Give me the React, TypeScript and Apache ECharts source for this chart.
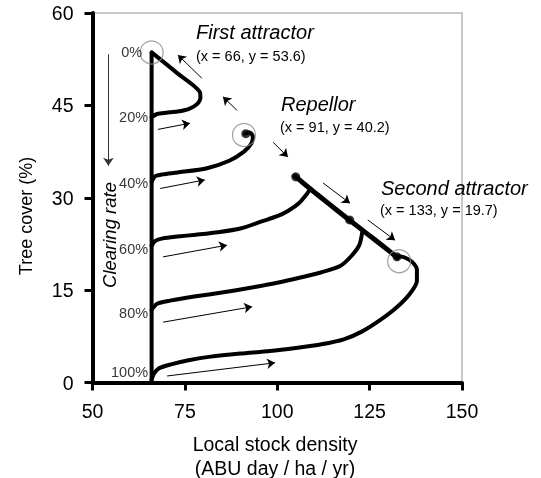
import React, { useEffect, useRef } from 'react';
import * as echarts from 'echarts';

// ---- axes ----
const xMin = 50;
const xMax = 150;
const xStep = 25;
const yMin = 0;
const yMax = 60;
const yStep = 15;

// ---- initial state line (all trajectories start at x = 66) ----
const initialX = [66, 66];
const initialY = [0, 53.6];

// ---- clearing rate labels ----
const clearingRates = ['0%', '20%', '40%', '60%', '80%', '100%'];
const clearingLabelY = [53.6, 43.1, 32.4, 21.7, 11.3, 1.7];

// ---- trajectories [x, y] ----
const traj20 = [
  [66, 43.1], [67.5, 43.6], [70, 43.8], [73, 44.0], [76, 44.4], [78.3, 45.2],
  [79.2, 46.2], [79.1, 47.1], [73, 50.2], [66, 53.6],
];
const traj40 = [
  [66, 32.6], [67, 33.5], [69, 33.8], [73, 34.1], [81, 34.8], [87, 36.0],
  [91, 37.5], [93, 38.8], [93.4, 39.9], [92.6, 40.6], [91.3, 40.4],
];
const traj60 = [
  [66, 22.2], [67, 23.0], [69, 23.4], [73, 23.7], [78, 24.0], [84, 24.4],
  [90, 25.0], [96, 26.2], [100, 27.0], [103, 27.9], [106, 29.2], [108, 30.6], [109, 31.5],
];
const traj80 = [
  [66, 11.8], [67.5, 12.8], [71, 13.3], [78, 14.0], [85, 14.6], [92, 15.3],
  [100, 16.2], [106, 17.0], [112, 17.9], [117, 18.9], [120, 20.5], [122.2, 22.3], [123, 24.4],
];
const traj100 = [
  [66, 0.5], [66.6, 1.4], [68, 2.3], [71, 2.9], [76, 3.6], [82, 4.2], [90, 4.7],
  [98, 5.1], [105, 5.6], [112, 6.2], [118, 7.0], [123, 8.3], [128, 10.2],
  [132.5, 12.3], [136, 14.5], [137.8, 16.5], [137.8, 18.3], [136.5, 19.6],
  [134.5, 20.3], [133, 20.5],
];
const separatrix = [
  [104.8, 33.5], [109, 31.4], [114, 29.0], [119.5, 26.4], [124, 24.3], [128.5, 22.2], [132.5, 20.3],
];
const blobs = [
  [91.5, 40.4], [105, 33.4], [119.6, 26.4], [132.4, 20.4],
];

// ---- attractors ----
const attractorNames = ['First attractor', 'Repellor', 'Second attractor'];
const attractorX = [66, 91, 133];
const attractorY = [53.6, 40.2, 19.7];

// ---- arrows [x1, y1, x2, y2] ----
const flowArrows = [
  [67.7, 41.1, 76.4, 42.1],
  [68.3, 31.5, 80.4, 32.9],
  [69.1, 20.4, 86.4, 22.3],
  [69.1, 9.8, 93.2, 12.3],
  [70.2, 1.06, 99.4, 3.2],
  [79.6, 49.4, 73.1, 53.2],
  [89.1, 44.2, 85.3, 46.4],
  [98.9, 39.0, 102.9, 36.6],
  [112.4, 32.4, 119.7, 29.1],
  [124.5, 26.4, 131.9, 23.1],
];
const clearingArrow = [54.3, 53.3, 54.3, 35.2];

const FONT = '"Liberation Sans", Arial, Helvetica, sans-serif';

export default function App() {
  const ref = useRef<HTMLDivElement>(null);

  useEffect(() => {
    if (!ref.current) return;
    const chart = echarts.init(ref.current, undefined, { renderer: 'svg' });

    const trajStyle = (data: number[][], name: string, width = 4) => ({
      type: 'line',
      name,
      data,
      showSymbol: false,
      smooth: 0.25,
      lineStyle: { color: '#000', width, cap: 'round', join: 'round' },
      z: 3,
    });

    const annotationText: any[] = [];
    const textPos = [
      [196, 32, 196, 56],
      [281, 104, 280, 127],
      [381, 188, 380, 210],
    ];
    attractorNames.forEach((n, i) => {
      const p = textPos[i];
      annotationText.push({
        type: 'text', x: p[0], y: p[1],
        style: { text: n, fontSize: 20, fontStyle: 'italic', fontFamily: FONT, fill: '#000', align: 'left', verticalAlign: 'middle' },
      });
      annotationText.push({
        type: 'text', x: p[2], y: p[3],
        style: { text: `(x = ${attractorX[i]}, y = ${attractorY[i]})`, fontSize: 14.5, fontFamily: FONT, fill: '#000', align: 'left', verticalAlign: 'middle' },
      });
    });

    const option: any = {
      animation: false,
      grid: {
        left: 92.5, right: 79, top: 13, bottom: 95.5,
        show: true, borderColor: '#c8c8c8', borderWidth: 2,
        outerBoundsMode: 'none',
      },
      xAxis: {
        type: 'value', min: xMin, max: xMax, interval: xStep,
        axisLine: { show: true, onZero: false, lineStyle: { color: '#000', width: 4 } },
        axisTick: { show: true, length: 8, lineStyle: { color: '#000', width: 3 } },
        axisLabel: { fontSize: 19.5, color: '#000', margin: 18, fontFamily: FONT },
        splitLine: { show: false },
      },
      yAxis: {
        type: 'value', min: yMin, max: yMax, interval: yStep,
        axisLine: { show: true, onZero: false, lineStyle: { color: '#000', width: 4 } },
        axisTick: { show: true, length: 8, lineStyle: { color: '#000', width: 3 } },
        axisLabel: { fontSize: 19.5, color: '#000', margin: 19, fontFamily: FONT },
        splitLine: { show: false },
      },
      series: [
        trajStyle(initialX.map((x, i) => [x, initialY[i]]), 'initial'),
        trajStyle(traj20, '20%'),
        trajStyle(traj40, '40%'),
        trajStyle(traj60, '60%'),
        trajStyle(traj80, '80%'),
        trajStyle(traj100, '100%'),
        trajStyle(separatrix, 'diagonal', 5),
        {
          type: 'scatter', name: 'blobs', data: blobs, symbolSize: 9,
          itemStyle: { color: '#000' }, z: 4,
        },
        {
          type: 'scatter', name: 'attractors',
          data: attractorX.map((x, i) => [x, attractorY[i]]),
          symbolSize: 23,
          itemStyle: { color: 'rgba(0,0,0,0)', borderColor: '#8a8a8a', borderWidth: 1.2 },
          z: 5,
        },
        {
          type: 'lines', name: 'flow', coordinateSystem: 'cartesian2d',
          data: flowArrows.map((a) => ({ coords: [[a[0], a[1]], [a[2], a[3]]] })),
          symbol: ['none', 'arrow'], symbolSize: 8,
          lineStyle: { color: '#000', width: 1, opacity: 1, curveness: 0 },
          z: 4,
        },
        {
          type: 'lines', name: 'clearing', coordinateSystem: 'cartesian2d',
          data: [{ coords: [[clearingArrow[0], clearingArrow[1]], [clearingArrow[2], clearingArrow[3]]] }],
          symbol: ['none', 'arrow'], symbolSize: 8,
          lineStyle: { color: '#333', width: 1, opacity: 1 },
          z: 4,
        },
        {
          type: 'scatter', name: 'clearingLabels',
          data: clearingLabelY.map((y, i) => ({
            value: [initialX[0], y],
            label: {
              show: true, position: 'left', distance: i === 0 ? 9 : 3,
              formatter: clearingRates[i], fontSize: 14.5, color: '#000', fontFamily: FONT,
            },
          })),
          symbolSize: 1,
          itemStyle: { color: 'rgba(0,0,0,0)' },
          z: 6,
        },
      ],
      graphic: [
        {
          type: 'text', x: 26, y: 216, rotation: Math.PI / 2,
          style: { text: 'Tree cover (%)', fontSize: 18, fontFamily: FONT, fill: '#000', align: 'center', verticalAlign: 'middle' },
        },
        {
          type: 'text', x: 275, y: 444,
          style: { text: 'Local stock density', fontSize: 19.5, fontFamily: FONT, fill: '#000', align: 'center', verticalAlign: 'middle' },
        },
        {
          type: 'text', x: 275, y: 468,
          style: { text: '(ABU day / ha / yr)', fontSize: 19.5, fontFamily: FONT, fill: '#000', align: 'center', verticalAlign: 'middle' },
        },
        {
          type: 'text', x: 109, y: 235, rotation: Math.PI / 2,
          style: { text: 'Clearing rate', fontSize: 18.5, fontStyle: 'italic', fontFamily: FONT, fill: '#000', align: 'center', verticalAlign: 'middle' },
        },
        ...annotationText,
      ],
    };

    chart.setOption(option);
    return () => chart.dispose();
  }, []);

  return <div ref={ref} style={{ position: 'fixed', left: 0, top: 0, width: 541, height: 478 }} />;
}
